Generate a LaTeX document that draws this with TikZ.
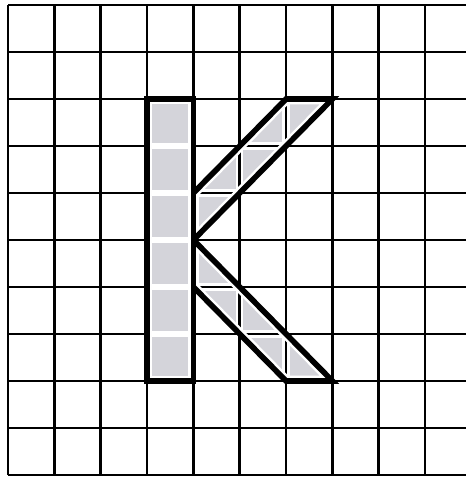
\documentclass[tikz,border=0pt]{standalone}
\definecolor{kshade}{RGB}{212,212,218}
\tikzset{
	gridline/.style={line width=1.6pt},
	gridhalo/.style={white, line width=4.4pt},
	kline/.style={line width=3.4pt, line join=miter},
	khalo/.style={white, line width=6.4pt, line join=miter}
}
\begin{document}
\begin{tikzpicture}[x=0.986cm, y=1cm]
	\useasboundingbox (-0.173,-0.085) rectangle (9.886,10.106);
	% Fill the arms of the letter
	\fill[kshade] (4,5) -- (4,6) -- (6,8) -- (7,8) -- cycle;
	\fill[kshade] (4,4) -- (4,5) -- (7,2) -- (6,2) -- cycle;
	% Draw the grid
	\foreach \x in {0,...,9} {
		\draw[gridhalo] (\x,0) -- (\x,10);
	}
	\foreach \y in {0,...,10} {
		\draw[gridhalo] (0,\y) -- (9.886,\y);
	}
	\foreach \x in {0,...,9} {
		\draw[gridline] (\x,0) -- (\x,10);
	}
	\foreach \y in {0,...,10} {
		\draw[gridline] (0,\y) -- (9.886,\y);
	}
	% Fill the stem of the letter
	\fill[kshade] (3,2) rectangle (4,8);
	\foreach \y in {3,...,7} {
		\draw[white, line width=3.2pt] (3,\y) -- (4,\y);
	}
	% White margin inside the outline
	\begin{scope}
		\clip (3,2) -- (3,8) -- (4,8) -- (4,6) -- (6,8) -- (7,8) -- (4,5)
			-- (7,2) -- (6,2) -- (4,4) -- (4,2) -- cycle;
		\draw[khalo] (3,2) rectangle (4,8);
		\draw[khalo] (4,5) -- (4,6) -- (6,8) -- (7,8) -- cycle;
		\draw[khalo] (4,4) -- (4,5) -- (7,2) -- (6,2) -- cycle;
	\end{scope}
	% Draw the outline of the letter K
	\draw[kline] (3,2) rectangle (4,8);
	\draw[kline] (4,6) -- (6,8) -- (7,8) -- (4,5);
	\draw[kline] (4,5) -- (7,2) -- (6,2) -- (4,4);
\end{tikzpicture}
\end{document}
